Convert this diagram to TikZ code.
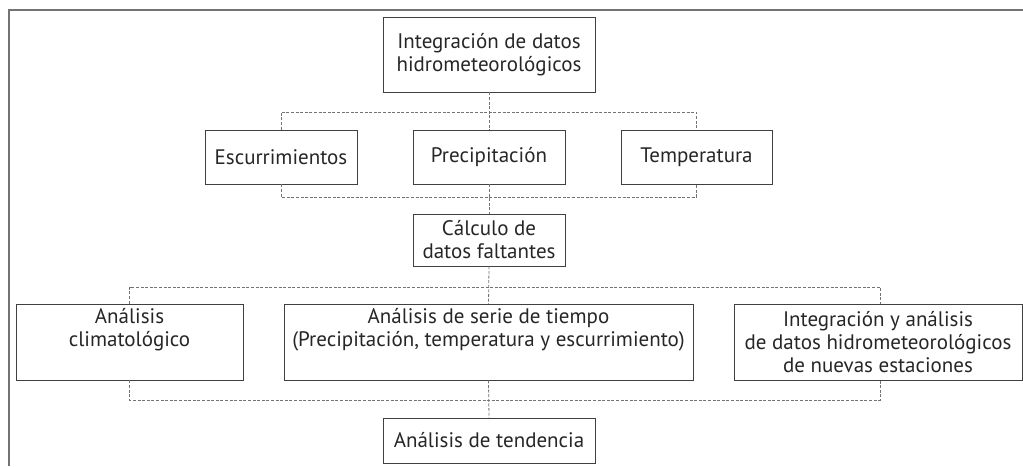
\documentclass[tikz,border=0pt]{standalone}
\usepackage{fontspec}
\setmainfont{PT Sans}
\begin{document}
\begin{tikzpicture}[x=1pt,y=-1pt,
  box/.style={draw=black!75,line width=0.8pt,align=center,inner sep=2pt,text=black!85,font=\fontsize{21}{23}\selectfont},
  conn/.style={draw=black!55,line width=0.8pt,dash pattern=on 3pt off 1.6pt}]
\useasboundingbox (0,0) rectangle (1023,466);
\draw[black!55,line width=1.4pt] (9,466) -- (9,10) -- (1023,10);
\node[box,minimum width=212pt,minimum height=75pt] (top) at (489,54.5) {Integración de datos\\hidrometeorológicos};
\node[box,minimum width=152pt,minimum height=54pt] (esc) at (281,157) {Escurrimientos};
\node[box,minimum width=152pt,minimum height=54pt] (pre) at (489,157) {Precipitación};
\node[box,minimum width=151pt,minimum height=54pt] (tem) at (696.5,157) {Temperatura};
\node[box,minimum width=152pt,minimum height=52pt] (calc) at (489,240) {Cálculo de\\datos faltantes};
\node[box,minimum width=227pt,minimum height=76pt] (clim) at (129.5,342) {Análisis\\climatológico\\\strut};
\node[box,minimum width=409pt,minimum height=76pt] (serie) at (488.5,342) {Análisis de serie de tiempo\\(Precipitación, temperatura y escurrimiento)\\\strut};
\node[box,minimum width=288pt,minimum height=76pt] (integ) at (878,342) {Integración y análisis\\de datos hidrometeorológicos\\de nuevas estaciones};
\node[box,minimum width=212pt,minimum height=45pt] (tend) at (489,440.5) {Análisis de tendencia};
\coordinate (j1) at (489,112);
\coordinate (j2) at (489,197);
\coordinate (j3) at (489,287);
\coordinate (j4) at (489,400);
\draw[conn] (top.south) -- (pre.north);
\draw[conn] (esc.north) -- (esc.north |- j1) -- (tem.north |- j1) -- (tem.north);
\draw[conn] (pre.south) -- (calc.north);
\draw[conn] (esc.south) -- (esc.south |- j2) -- (tem.south |- j2) -- (tem.south);
\draw[conn] (calc.south) -- (serie.north);
\draw[conn] (clim.north) -- (clim.north |- j3) -- (880,287) coordinate (r3) -- (r3 |- integ.north);
\draw[conn] (serie.south) -- (tend.north);
\draw[conn] (clim.south) -- (clim.south |- j4) -- (880,400) coordinate (r4) -- (r4 |- integ.south);
\end{tikzpicture}
\end{document}
